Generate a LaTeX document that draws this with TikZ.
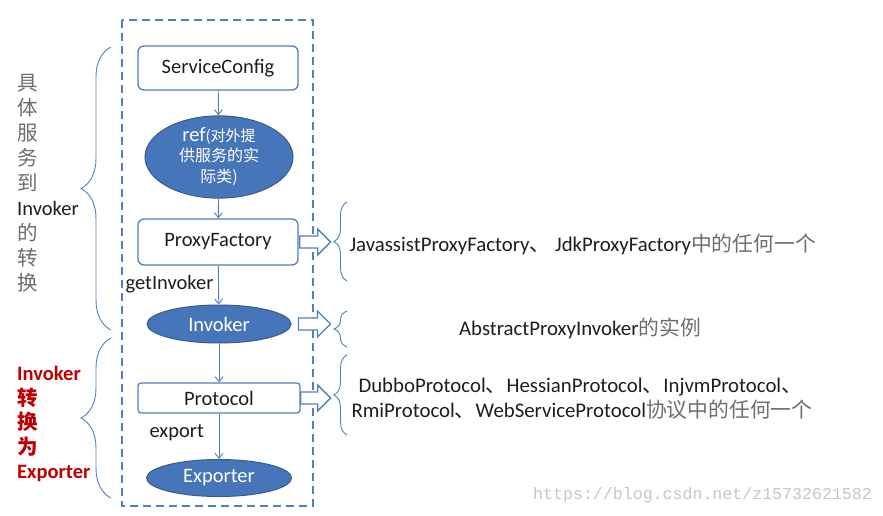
\documentclass[tikz,border=0pt]{standalone}
\usepackage{fontspec}
\setmainfont{Carlito}
\newfontfamily\cjk{Noto Sans CJK SC}
\newfontfamily\wmfont{Liberation Mono}
\usetikzlibrary{shapes.geometric,arrows.meta,decorations.pathreplacing}
\definecolor{bl}{RGB}{79,129,189}
\definecolor{bld}{RGB}{56,93,138}
\definecolor{efill}{RGB}{70,118,185}
\definecolor{redt}{RGB}{192,0,0}
\definecolor{txt}{RGB}{30,30,30}
\definecolor{cjkgray}{RGB}{110,110,110}
% #1 anchor, #2 gap, #3 shaft length
\newcommand{\hollowarr}[3]{\draw[harrow] (#1) ++(#2,-6) -- ++(#3,0) -- ++(0,-7) -- ++(13,13) -- ++(-13,13) -- ++(0,-7) -- ++(-#3,0) -- cycle;}
\begin{document}
\begin{tikzpicture}[x=1pt,y=-1pt,
  rbox/.style={draw=bl, line width=1.3pt, rounded corners=6pt, fill=white, minimum width=160pt, inner sep=0pt, text=txt, font=\fontsize{20.5}{24}\selectfont},
  ell/.style={ellipse, draw=bld, fill=efill, text=white, inner sep=0pt, line width=1pt, font=\fontsize{20.5}{24}\selectfont},
  flow/.style={draw=bl, line width=0.9pt, -{Straight Barb[length=5pt,width=8pt]}},
  harrow/.style={draw=bl, line width=1.3pt, fill=white},
  brc/.style={draw=bl, line width=0.9pt, decorate},
  lbl/.style={anchor=west, text=txt, font=\fontsize{20.5}{24}\selectfont},
  rtxt/.style={anchor=west, text=txt, font=\fontsize{20.8}{24}\selectfont}
]
\useasboundingbox (0,0) rectangle (883,516);
\fill[white] (0,0) rectangle (883,516);
% dashed frame
\draw[bl, line width=1.6pt, dash pattern=on 8pt off 5pt] (122,20) rectangle (313,506);
% nodes
\node[rbox, minimum height=44pt] (sc) at (218,68) {ServiceConfig};
\node[ell, minimum width=148pt, minimum height=57pt, align=center] (ref) at (219,157)
  {ref{\cjk\fontsize{15}{19}\selectfont(对外提}\\[-4pt]{\cjk\fontsize{16}{19}\selectfont 供服务的实}\\[-3pt]{\cjk\fontsize{16}{19}\selectfont 际类)}};
\node[rbox, minimum height=46pt] (pf) at (218,242) {ProxyFactory};
\node[ell, minimum width=144pt, minimum height=38pt] (inv) at (219,324) {Invoker};
\node[rbox, minimum width=162pt, minimum height=30pt, rounded corners=3pt] (pr) at (219,398) {Protocol};
\node[ell, minimum width=145pt, minimum height=37pt] (exp) at (219,478) {Exporter};
% flow
\draw[flow] (sc) -- (ref);
\draw[flow] (ref) -- (pf);
\draw[flow] (pf) -- (inv);
\draw[flow] (inv) -- (pr);
\draw[flow] (pr) -- (exp);
\node[lbl] (gi) at (122,284) {getInvoker};
\node[lbl] (ex) at (146,433) {export};
% hollow arrows
\hollowarr{pf.east}{1}{18}
\hollowarr{inv.east}{7}{19}
\hollowarr{pr.east}{0}{17}
% right braces
\draw[brc, decoration={brace, amplitude=13pt}] (347,281) -- (347,202);
\draw[brc, decoration={brace, amplitude=13pt}] (347,347) -- (347,311);
\draw[brc, decoration={brace, amplitude=13pt}] (347,435) -- (347,355);
% right texts
\node[rtxt] (t1) at (346,244) {JavassistProxyFactory{\cjk 、} JdkProxyFactory{\cjk\color{cjkgray}中的任何一个}};
\node[rtxt, anchor=center] (t2) at (580,328) {AbstractProxyInvoker{\cjk\color{cjkgray}的实例}};
\node[rtxt] (t3) at (355,387) {DubboProtocol{\cjk 、}HessianProtocol{\cjk 、}InjvmProtocol{\cjk 、}};
\node[rtxt] (t4) at (348,410) {RmiProtocol{\cjk 、}WebServiceProtocol{\cjk\color{cjkgray}协议中的任何一个}};
% left braces
\draw[brc, decoration={brace, amplitude=30pt}] (111,330) -- (111,47);
\draw[brc, decoration={brace, amplitude=30pt}] (111,498) -- (111,338);
% left texts
\node[anchor=north west, align=left, text=cjkgray, font=\fontsize{20.5}{25}\selectfont, inner sep=0pt] (lt) at (17,74)
  {{\cjk 具}\\{\cjk 体}\\{\cjk 服}\\{\cjk 务}\\{\cjk 到}\\\textcolor{txt}{Invoker}\\{\cjk 的}\\{\cjk 转}\\{\cjk 换}};
\node[anchor=north west, align=left, text=redt, font=\bfseries\fontsize{20.5}{24.5}\selectfont, inner sep=0pt] (rt) at (17,366)
  {Invoker\\{\cjk 转}\\{\cjk 换}\\{\cjk 为}\\Exporter};
% watermark
\node[anchor=west, text=gray!45, font=\wmfont\fontsize{16.6}{17}\selectfont, inner sep=0pt] (wm) at (533,495) {https://blog.csdn.net/z15732621582};
\end{tikzpicture}
\end{document}
